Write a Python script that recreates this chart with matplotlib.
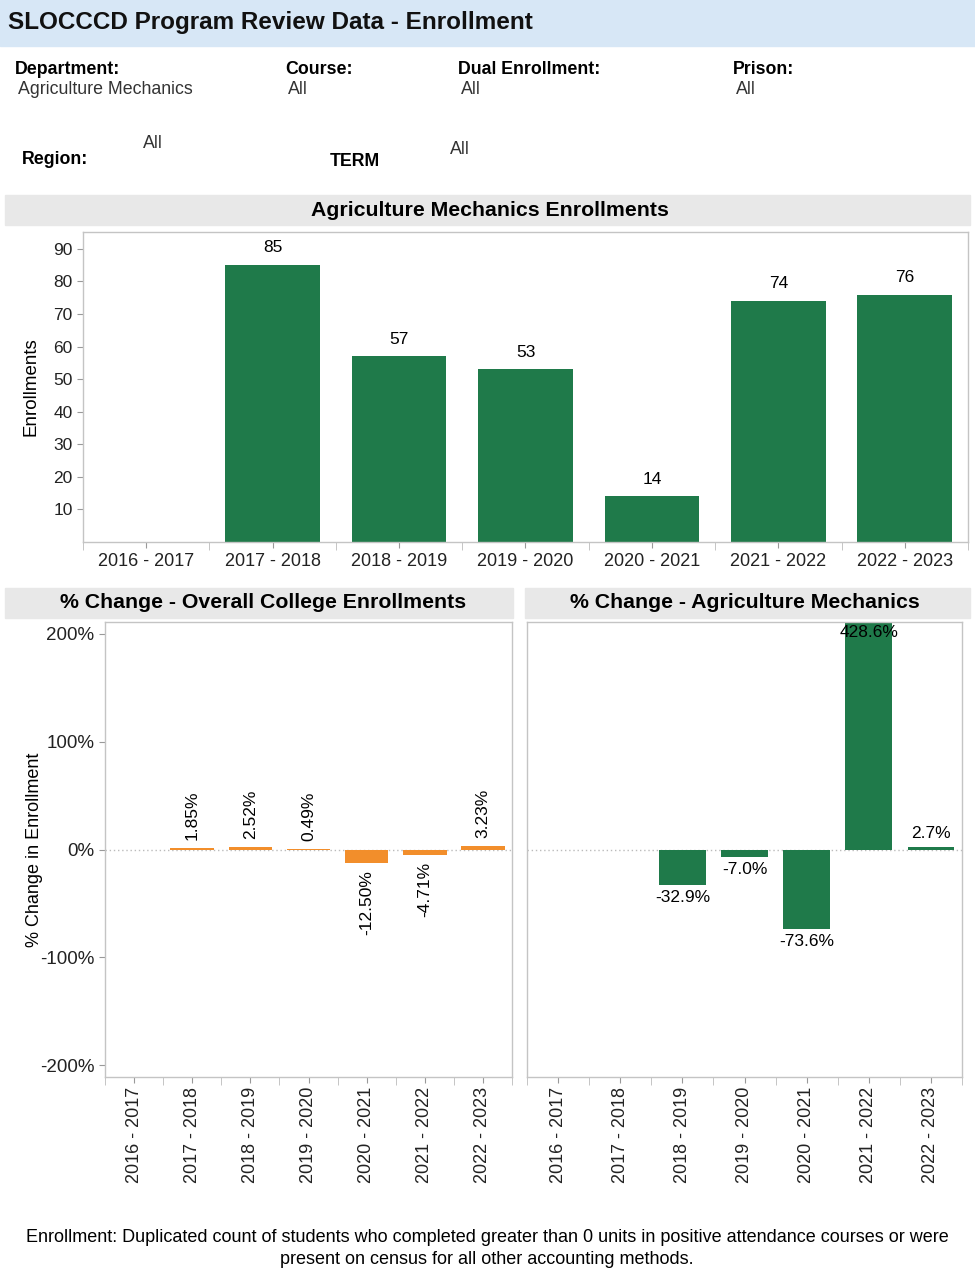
import numpy as np
import matplotlib.pyplot as plt
from matplotlib.patches import Rectangle

plt.rcParams['font.family'] = ['Liberation Sans', 'DejaVu Sans']

years = ['2016 - 2017', '2017 - 2018', '2018 - 2019', '2019 - 2020',
         '2020 - 2021', '2021 - 2022', '2022 - 2023']
enrollments = [0, 85, 57, 53, 14, 74, 76]
college_change = [None, 1.85, 2.52, 0.49, -12.50, -4.71, 3.23]
program_change = [None, None, -32.9, -7.0, -73.6, 428.6, 2.7]

GREEN = '#1f7a4a'
ORANGE = '#f28e2b'
W, H = 975, 1283

fig = plt.figure(figsize=(W / 100, H / 100), dpi=100)
fig.patch.set_facecolor('white')


def px_axes(x0, y0, x1, y1):
    return fig.add_axes([x0 / W, 1 - y1 / H, (x1 - x0) / W, (y1 - y0) / H])


def band(x0, y0, x1, y1, color):
    fig.patches.append(Rectangle((x0 / W, 1 - y1 / H), (x1 - x0) / W, (y1 - y0) / H,
                                 transform=fig.transFigure, color=color, zorder=0))


def ftext(x, y, s, **kw):
    fig.text(x / W, 1 - y / H, s, **kw)


def style_frame(ax):
    for sp in ax.spines.values():
        sp.set_color('#c4c4c4')
        sp.set_linewidth(1)
    ax.tick_params(colors='#999999', labelcolor='#222222', length=4, width=0.8)


# header
band(0, 0, W, 46, '#d7e7f6')
ftext(8, 23, 'SLOCCCD Program Review Data - Enrollment', fontsize=17.5,
      fontweight='bold', va='center', color='#111111')

filters = [(15, 'Department:', 'Agriculture Mechanics'), (285, 'Course:', 'All'),
           (458, 'Dual Enrollment:', 'All'), (733, 'Prison:', 'All')]
for x, lab, val in filters:
    ftext(x, 69, lab, fontsize=12.8, fontweight='bold', va='center')
    ftext(x + 3, 89, val, fontsize=12.8, va='center', color='#333333')
ftext(22, 160, 'Region:', fontsize=12.8, fontweight='bold', va='center')
ftext(143, 143, 'All', fontsize=12.8, va='center', color='#333333')
ftext(330, 162, 'TERM', fontsize=12.8, fontweight='bold', va='center')
ftext(450, 150, 'All', fontsize=12.8, va='center', color='#333333')

# top chart: enrollments
band(5, 195, 970, 225, '#e8e8e8')
ftext(490, 210, 'Agriculture Mechanics Enrollments', fontsize=15.3,
      fontweight='bold', ha='center', va='center')

ax = px_axes(83, 232, 968, 542)
x = np.arange(len(years))
ax.bar(x, enrollments, width=0.75, color=GREEN)
for xi, v in zip(x, enrollments):
    if v:
        ax.text(xi, v + 3, str(v), ha='center', va='bottom', fontsize=12.5)
ax.set_xlim(-0.5, len(years) - 0.5)
ax.set_ylim(0, 95.2)
ax.set_yticks(range(10, 100, 10))
ax.set_xticks(x)
ax.set_xticklabels(years, fontsize=13)
ax.tick_params(axis='x', length=0, pad=4)
ax.tick_params(axis='y', labelsize=12.5)
ax.set_xticks(np.arange(-0.5, len(years), 1), minor=True)
ax.tick_params(axis='x', which='minor', length=6, color='#bbbbbb')
ax.set_ylabel('Enrollments', fontsize=13.5, labelpad=10)
style_frame(ax)


def change_chart(ax, values, color, rotate):
    xs = [i for i, v in enumerate(values) if v is not None]
    vals = [values[i] for i in xs]
    ax.axhline(0, color='#bbbbbb', linestyle=(0, (1, 2)), linewidth=1, zorder=0)
    ax.bar(xs, vals, width=0.75, color=color, zorder=2)
    ymax = 211
    for xi, v in zip(xs, vals):
        lab = f'{v:.2f}%' if rotate else f'{v:.1f}%'
        if rotate:
            ax.text(xi, v + (7 if v > 0 else -7), lab, rotation=90, ha='center',
                    va='bottom' if v > 0 else 'top', fontsize=12.5, zorder=3)
        elif v > ymax:
            ax.text(xi, ymax - 3, lab, ha='center', va='top', fontsize=12.5, zorder=3)
        else:
            ax.text(xi, v + (5 if v > 0 else -5), lab, ha='center',
                    va='bottom' if v > 0 else 'top', fontsize=12.5, zorder=3)
    ax.set_xlim(-0.5, len(years) - 0.5)
    ax.set_ylim(-ymax, ymax)
    ax.set_xticks(range(len(years)))
    ax.set_xticklabels(years, rotation=90, fontsize=13)
    ax.tick_params(axis='x', length=0, pad=3)
    ax.set_xticks(np.arange(-0.5, len(years), 1), minor=True)
    ax.tick_params(axis='x', which='minor', length=6, color='#bbbbbb')
    style_frame(ax)


# bottom left: overall college
band(5, 588, 513, 618, '#e8e8e8')
ftext(263, 602, '% Change - Overall College Enrollments', fontsize=15.3,
      fontweight='bold', ha='center', va='center')
axl = px_axes(105, 622, 512, 1077)
change_chart(axl, college_change, ORANGE, True)
axl.set_yticks([-200, -100, 0, 100, 200])
axl.set_yticklabels(['-200%', '-100%', '0%', '100%', '200%'], fontsize=13.5)
axl.set_ylabel('% Change in Enrollment', fontsize=13, labelpad=-2)

# bottom right: program
band(525, 588, 970, 618, '#e8e8e8')
ftext(745, 602, '% Change - Agriculture Mechanics', fontsize=15.3,
      fontweight='bold', ha='center', va='center')
axr = px_axes(527, 622, 962, 1077)
change_chart(axr, program_change, GREEN, False)
axr.set_yticks([])

# footnote
ftext(487, 1238, 'Enrollment: Duplicated count of students who completed greater than 0 units '
      'in positive attendance courses or were', fontsize=13, ha='center', va='center')
ftext(487, 1259, 'present on census for all other accounting methods.', fontsize=13,
      ha='center', va='center')

fig.savefig('out.png', dpi=100)
